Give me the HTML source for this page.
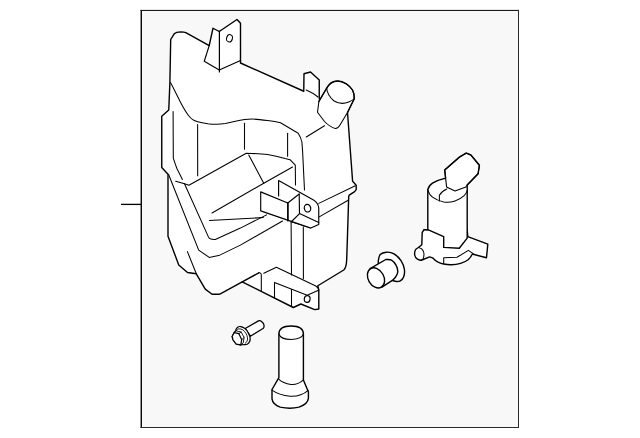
<!DOCTYPE html>
<html><head><meta charset="utf-8"><title>Washer Reservoir</title>
<style>
html,body{margin:0;padding:0;background:#fff;font-family:"Liberation Sans",sans-serif;}
svg{display:block}
.o{fill:#fff;stroke:#000;stroke-width:1.4;stroke-linejoin:round;stroke-linecap:round}
.l{fill:none;stroke:#000;stroke-width:1.4;stroke-linejoin:round;stroke-linecap:round}
.t{fill:none;stroke:#000;stroke-width:1.05;stroke-linejoin:round;stroke-linecap:round}
</style></head><body>
<svg width="640" height="438" viewBox="0 0 640 438">
<rect x="0" y="0" width="640" height="438" fill="#fff"/>
<rect x="141" y="10" width="377.5" height="417.5" fill="#f8f8f8"/>
<rect x="140.55" y="9.9" width="1.45" height="418.1" fill="#0a0a0a"/>
<rect x="140.55" y="9.9" width="378.45" height="1.1" fill="#1a1a1a"/>
<rect x="518" y="9.9" width="1" height="418.1" fill="#2a2a2a"/>
<rect x="140.55" y="427" width="378.45" height="1" fill="#2a2a2a"/>
<rect x="121" y="203.75" width="20" height="1.3" fill="#000"/>

<!-- TANK -->
<g id="tank">
<path class="o" d="M170.7,39.5 L174.2,33.8 C175.5,32.6 178,32 180.75,31.9 C183,31.9 184.6,32.1 185.8,32.6 L209.2,45.6 L213,28.25 L219.25,31.5 L237,19.5 L240.5,23.25 L240.5,63 L303.75,91.25 L304,73.75 L310.5,72 L319.25,80 L319.25,98.75 L347.5,112.5 L352.6,181.2 L356.2,185.2 L356.2,189.6 L354.6,191.6 L349.2,195.2 L348.7,196.6 L347.5,235 L346.7,259 C346.6,265 345.8,268 343.75,270 L317.8,285.75 L318.8,290.15 L318.8,309 L314.7,309.6 L300.9,304 L293.3,307.5 L242.2,281.8 L220.3,293.8 C219.9,294.1 219.6,294.2 219.2,294.2 L212.4,294.2 C212,294.2 211.7,294.1 211.4,293.8 L205.6,289.4 C205.3,289.1 205,288.8 204.8,288.4 L196.3,273.8 L187.5,272.5 L178.75,265 L168,236.25 L168,174.25 L161.75,167.5 L161.75,116.25 L168.75,110 L169.9,82.5 Z"/>
<!-- top tab -->
<path class="l" style="stroke-width:1.15" d="M209.2,45.6 L204.25,61.25 L219.25,70 L240.5,60.5"/>
<path class="l" style="stroke-width:1.2" d="M219.4,31 L219.4,72"/>
<ellipse class="t" cx="229.5" cy="38.25" rx="2.9" ry="3.7" transform="rotate(15 229.5 38.25)"/>
<!-- shoulder curve -->
<path class="t" d="M170.5,82.5 C174,89 177,95.5 180.1,101.4 C183,107 185.5,111.5 188.3,115.2 C189.7,117 191,118.5 192.7,119.6 C194.3,120.6 196,121.2 197.7,121.7 C201,122.6 204.5,123.2 207.8,123.7 C211,124.1 214,124.3 216.6,124.2 C219.5,124.1 222.5,123.8 225.4,123.4 C229,122.8 232,122 235.4,121.2 C240,120.3 246,119.2 252,119.1 C257,119.1 262,119.8 267.5,120.6 C272,121.2 277,122 280.5,122.8 L298.2,133.2 C300,136 301.3,139 301.9,142 L302.6,151.4 L304.5,190"/>
<path class="t" d="M306.25,90 C311,92 315,94.5 318,97"/>
<path class="t" d="M306.25,137 L324.5,125.75"/>
<!-- verticals -->
<path class="t" d="M173.1,111.6 L173.3,158.2 C174.5,162 175.5,165 177,168.8 L182.4,179.5"/>
<path class="t" d="M197.6,124.6 L197.7,175.75"/>
<path class="t" d="M244.5,123.3 L244.5,149.2"/>
<path class="t" d="M287.6,133.3 L287.6,156.25"/>
<!-- recess -->
<path class="t" d="M175.7,181.2 L184.5,183.7 L188.9,185.2 L246.25,153.25 C256,153.5 262,153.8 267.5,154.5 C275,155.6 280,157 285,158.6 L290,159.7 L295.3,165.2 L295.5,185"/>
<path class="t" d="M248.75,155 L263.75,183.25"/>
<path class="t" d="M292.5,167 L263.75,183.25 L212,213"/>
<path class="t" d="M209.4,220.5 L263.4,217.6"/>
<path class="t" d="M168.6,174.5 L198.7,250.1 L209.2,257.4 L219.7,255.15 L240.4,245.1 L282.5,221"/>
<path class="t" d="M184.5,183.7 L208.4,236.9 C209,238 210,238.8 210.9,239.1 C212.5,239.6 214,239.6 215.3,239.4 L240.4,228.1 L266.6,214.85"/>
<path class="t" d="M187.4,251.6 L196.4,274"/>
<!-- seam right -->
<path class="t" d="M318.8,203.4 L355.3,185.7"/>
<path class="t" d="M318.8,217.1 L348.6,200"/>
<!-- vertical lower -->
<path class="t" d="M291.1,222 L291.5,275"/>
<path class="t" d="M303.3,226.7 L303.4,278.8"/>
<path class="t" d="M292,222 L310,227.5"/>
<!-- bottom -->
<path class="l" d="M242.2,281.8 L258.8,272.9"/>
<path class="t" d="M258.8,272.6 C260.5,273 261.3,273.6 261.3,274.6 L261.3,290.8"/>
<path class="t" d="M263.8,273.2 L276.4,267.3 L315.3,285.75 C317.5,286.8 318.6,288.3 318.8,290.15"/>
</g>

<!-- upper bracket -->
<g id="ubracket">
<path fill="#fff" stroke="none" d="M278.6,180.5 L314,200.3 L318.75,206 L318.75,224.4 L310.8,228.1 L260.7,210.9 L260.7,191.9 L278.6,199 Z"/>
<path class="t" style="stroke-width:1.15" d="M278.6,195.9 L278.6,180.5 L313.5,200 C316.5,201.8 318.4,204 318.75,208 L318.75,224.4 L310.8,228.1 L260.7,210.9 L260.7,191.9 L287.8,203 L299.2,194"/>
<path class="t" style="stroke-width:1.7" d="M287.9,203 L287.9,220.6"/>
<path class="t" style="stroke-width:1.15" d="M299.2,194 L299.5,213.6 L291.1,222"/>
<path class="t" style="stroke-width:1.15" d="M299.5,213.6 L318.75,222.5"/>
<ellipse class="t" style="stroke-width:1.25" cx="307.5" cy="208.2" rx="3.2" ry="3.8" transform="rotate(-10 307.5 208.2)"/>
</g>

<!-- lower bracket -->
<g id="lbracket">
<path class="t" d="M274.5,297.7 L274.5,282.6 L307.2,295.2 L318.5,290.3"/>
<path class="t" d="M291.5,289.5 L291.5,306.5"/>
<ellipse class="t" style="stroke-width:1.2" cx="307.2" cy="299" rx="2.9" ry="3.4" transform="rotate(8 307.2 299)"/>
</g>

<!-- filler neck -->
<g id="neck">
<path class="o" style="stroke-width:1.05" d="M326.75,88 C329,84 333,81 337.5,81 C344,81 350,86 352.5,90 C354,93 354.5,96 354.25,98.75 L347.5,112.5 L340,125 C338.5,127.5 337,128.6 335.3,128.4 C331,127.5 327.5,124.5 324.5,121.5 L317.5,112.3 L318.9,101.4 Z"/>
<path class="l" d="M318.9,101.4 L326.75,88 C329,84 333,81 337.5,81 C344,81 350,86 352.5,90 C354,93 354.5,96 354.25,98.75 L347.5,112.5"/>
<path class="t" d="M326.75,88 C326.5,92 330,98 333.75,100.75 C338,103.5 344,104 348.75,102 C351,101 353,100 354.25,98.75"/>
</g>

<!-- bolt -->
<g id="bolt">
<path class="o" style="stroke-width:1.3" d="M245.25,328.5 L258.4,320.9 C259.7,320.3 260.8,320.8 261.5,321.5 C262.8,322.6 263.7,323.7 263.9,324.7 C264.2,326 264,327.1 263.6,327.8 L263,328.5 L250.4,336.2 Z"/>
<path class="o" style="stroke-width:1.2" d="M235.7,330.5 C236,329 236.7,328 237.6,327.3 C238.5,326.6 239.8,326.4 240.8,326.6 C242,326.9 243.5,327.4 244.6,328.2 C246,329.2 247,330.5 247.8,332.1 C248.8,333.8 249.7,335.5 250,337.2 C250.3,338.8 250.2,340.5 249.7,341.6 C249.2,342.8 248.3,343.7 247.2,344.2 C246.3,344.6 245.5,344.6 244.6,344.5 L240.8,344.8 L236.3,344.2 L233.1,340 L232.15,336.5 L234.1,332.7 Z"/>
<path class="t" style="stroke-width:0.9" d="M236,330.8 C237,329.5 238,329 238.9,328.9 C240.3,328.8 241.5,329.2 242.7,329.8 C244,330.7 245,331.8 245.9,333.3 C246.8,334.8 247.3,336.3 247.5,337.8 C247.7,339.3 247.4,340.6 246.85,341.6 C246.4,342.4 245.9,342.9 245.25,343.2"/>
<path class="o" style="stroke-width:0.9" d="M234.1,332.7 L236.3,330.9 L241.1,332 L244.1,337.4 L243.3,342.7 L240.8,344.8 Z"/>
<path class="o" style="stroke-width:1.2" d="M232.15,336.5 L234.1,332.7 L238.9,333.65 L241.7,339.7 L240.8,344.8 L236.3,344.2 L233.1,340 Z"/>
<path class="t" style="stroke-width:0.9" d="M238.9,333.65 L241.1,332 M241.7,339.7 L244.1,337.4"/>
</g>

<!-- cap -->
<g id="cap">
<path class="o" d="M278.9,334 C278.9,328.3 284.5,326 291.1,326 C297.8,326 303.4,328.3 303.4,334 L303.4,380 L308.4,392 L308.4,398.3 C308,402 305,405 299,407.1 C294,408.4 286,408.4 280.2,407.1 C276,405.8 272.5,402.5 272,398.9 L272,389.5 L278.9,377.6 Z"/>
<path class="t" d="M278.9,334 C280,337.5 285,339.5 291.1,339.5 C297,339.5 302.4,337.5 303.4,334"/>
<path class="t" d="M278.9,379.4 C281,381.5 285,383.6 291,384.4 C296,384.8 300.5,382.5 303.4,379.8"/>
<path class="t" d="M272,390.1 C276,393 283,395.5 290.2,396.2 C297,396.5 304,394 308.2,390.3"/>
</g>

<!-- grommet -->
<g id="grommet">
<path class="o" d="M378.3,263.9 L378.30,260.70 C378.62,259.68 378.85,256.02 380.20,254.60 C381.55,253.18 384.10,252.33 386.40,252.20 C388.70,252.07 391.57,252.40 394.00,253.80 C396.43,255.20 399.27,258.00 401.00,260.60 C402.73,263.20 403.97,266.67 404.40,269.40 C404.83,272.13 404.28,275.10 403.60,277.00 C402.92,278.90 401.48,280.05 400.30,280.80 C399.12,281.55 397.77,281.55 396.50,281.50 C395.23,281.45 393.33,280.67 392.70,280.50 Z"/>
<path class="o" d="M370.1,268.6 L385.80,259.50 C386.75,259.60 389.80,259.15 391.50,260.10 C393.20,261.05 394.95,263.32 396.00,265.20 C397.05,267.08 397.80,269.53 397.80,271.40 C397.80,273.27 396.85,274.93 396.00,276.40 C395.15,277.87 393.25,279.57 392.70,280.20 L382,287.1 Z"/>
<ellipse class="o" cx="376" cy="277.9" rx="10.7" ry="7.8" transform="rotate(60 376 277.9)"/>
</g>

<!-- pump -->
<g id="pump">
<!-- base -->
<path class="o" d="M427.8,229.7 L424,229.7 L422.2,232.5 L421.8,244.7 L418.4,247.5 C416.5,248.5 415.5,249.5 415.25,250.3 C414.5,252 414.5,253.5 414.7,255 C415,257 416,258.3 417.5,259.1 C418.7,259.8 420,260.2 421.25,260.25 L429.7,256.9 L432.5,257.8 C434,259.5 436,261 438.1,262.1 C440,263 441.5,263.6 443.75,264 C446,264.5 448.5,264.8 451.25,264.75 C454.5,264.7 457.5,264.3 460.6,263.4 C463.5,262.5 466,261.3 468.1,259.7 C470,258 471.5,256 472.25,254 L486.5,257.8 L487.8,244.1 L467.75,236.6 L467.2,229.7 Z"/>
<!-- cylinder -->
<path class="o" d="M427.8,189.7 C428.5,186.5 430,184.7 432.5,183.1 C436,181 440,179.5 444.7,178.4 L467.2,185 L467.2,238.1 L459.3,248.2 L443.7,247.4 L443.7,236.6 L427.8,229.7 Z"/>
<path class="t" d="M427.8,189.7 C428.5,193 430,195.3 432.5,197.2 C435.5,199.5 439,201 443.75,201.9 C447.5,202.5 451,202.2 455,200.9 C458.5,199.8 461.5,198 464.4,195.3 C465.7,194 466.7,192.5 467.2,190.6"/>
<path class="t" d="M439.4,200.9 L439.4,195.3 C441,192.5 443.5,190.5 446.8,189"/>
<path class="t" d="M424,229.7 L427.8,229.7"/>
<path class="t" d="M418.4,247.5 C420.5,248 421.7,248.7 422.2,249.4 C423.5,251 424,252.5 424,254 C424,256 423.7,257.5 423.1,258.75 C422.7,259.5 422,260 421.25,260.25"/>
<path class="t" d="M443.7,263.6 L443.7,257.7 L457,257.3 L468.3,250.4 L473.2,253.6"/>
<!-- connector -->
<path class="o" style="stroke-width:1.1" d="M444.7,170 L459.7,156.9 L466.25,153.1 L470.9,155 L479.4,165.3 L478.1,173.75 L467.2,185 L465.9,186.9 L455,191 L446.6,186.9 Z"/>
<path class="l" d="M445.6,178 L444.7,170 L459.7,156.9 L466.25,153.1 L470.9,155 L479.4,165.3 L478.1,173.75 L467.2,185"/>
</g>
</svg>
</body></html>
